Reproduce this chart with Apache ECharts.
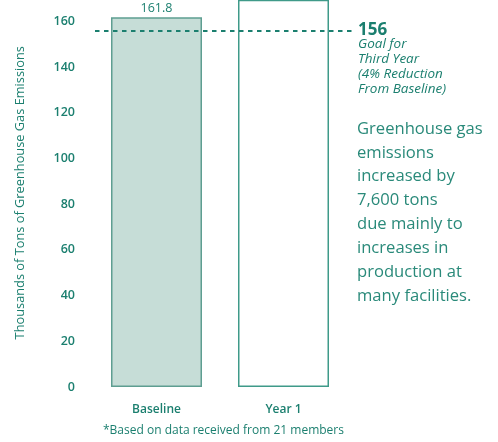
<!DOCTYPE html>
<html><head><meta charset="utf-8">
<script src="https://cdn.jsdelivr.net/npm/echarts@6/dist/echarts.min.js"></script>
<style>html,body{margin:0;padding:0;background:#fff}#c{width:498px;height:442px}</style>
</head><body><div id="c"></div>
<script>
const categories = ['Baseline', 'Year 1'];
const emissions = [161.8, 169.4];
const goalValue = 156;
const yTicks = [0, 20, 40, 60, 80, 100, 120, 140, 160];
const goalLines = ['Goal for', 'Third Year', '(4% Reduction', 'From Baseline)'];
const noteLines = ['Greenhouse gas', 'emissions', 'increased by', '7,600 tons', 'due mainly to', 'increases in', 'production at', 'many facilities.'];

const TEAL = '#1b7f6f';
const FONT = '"Open Sans", "Noto Sans", sans-serif';
const chart = echarts.init(document.getElementById('c'));
chart.setOption({
  animation: false,
  textStyle: { fontFamily: FONT },
  grid: { left: 93, right: 151, top: -1.5, bottom: 55, outerBoundsMode: 'none', containLabel: false },
  xAxis: {
    type: 'category', data: categories,
    axisLine: { show: false }, axisTick: { show: false },
    axisLabel: { color: TEAL, fontSize: 12, fontFamily: FONT, fontWeight: 600, margin: 17 }
  },
  yAxis: {
    type: 'value', min: 0, max: 170, interval: 20,
    axisLine: { show: false }, axisTick: { show: false }, splitLine: { show: false },
    axisLabel: { color: TEAL, fontSize: 12.5, fontFamily: FONT, fontWeight: 600, margin: 18,
      formatter: v => yTicks.includes(v) ? String(v) : '' },
    name: 'Thousands of Tons of Greenhouse Gas Emissions',
    nameLocation: 'middle', nameGap: 66, nameRotate: 90,
    nameTextStyle: { color: TEAL, fontSize: 12.8, fontFamily: FONT }
  },
  series: [{
    type: 'bar', barWidth: 91,
    data: [
      { value: emissions[0], itemStyle: { color: '#c6ddd7', borderColor: '#5e9e91', borderWidth: 1.5 },
        label: { show: true, position: 'top', distance: 2, color: TEAL, fontSize: 12.5, fontFamily: FONT } },
      { value: emissions[1], itemStyle: { color: '#ffffff', borderColor: '#3f9a89', borderWidth: 1.5 } }
    ],
    markLine: {
      silent: true, symbol: ['none', 'none'],
      lineStyle: { color: TEAL, type: [4.5, 4.5], width: 2 },
      label: { show: true, position: 'end', distance: 5, color: TEAL, fontSize: 17, fontWeight: 'bold', fontFamily: FONT,
        formatter: String(goalValue) },
      data: [[{ x: 95, yAxis: goalValue }, { x: 353, yAxis: goalValue }]]
    }
  }],
  graphic: [
    { type: 'text', left: 358, top: 37,
      style: { text: goalLines.join('\n'), fill: TEAL, font: 'italic 13.5px ' + FONT, lineHeight: 14.8 } },
    { type: 'text', left: 357, top: 117,
      style: { text: noteLines.join('\n'), fill: '#2a8a7a', font: '16.6px ' + FONT, lineHeight: 23.9 } },
    { type: 'text', left: 103, top: 425,
      style: { text: '*Based on data received from 21 members', fill: TEAL, font: '12px ' + FONT } }
  ]
});
</script></body></html>
